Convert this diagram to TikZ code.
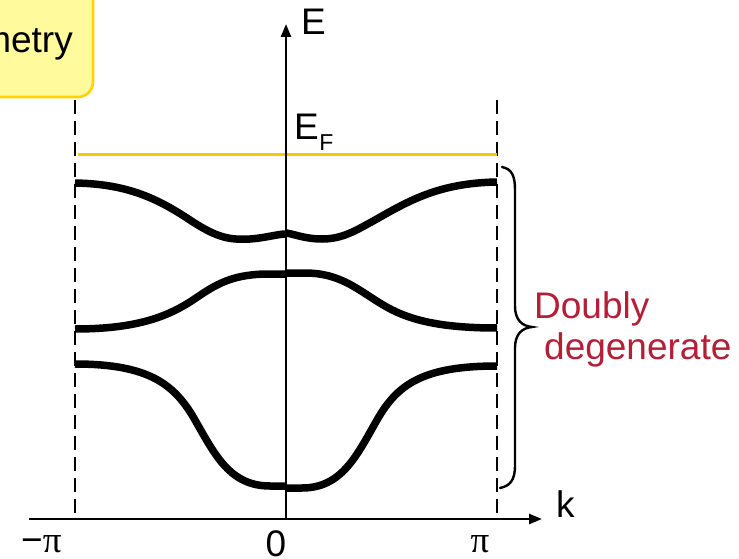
\documentclass[tikz,border=0pt]{standalone}
\usepackage{fontspec}
\setmainfont{Liberation Sans}
\newfontfamily\grk{Liberation Serif}
\usetikzlibrary{arrows.meta}
\definecolor{boxfill}{RGB}{255,250,155}
\definecolor{boxedge}{RGB}{255,210,0}
\definecolor{fermi}{RGB}{250,200,0}
\definecolor{degred}{RGB}{180,30,55}
\tikzset{
  axisline/.style={line width=2.6pt,-{Triangle[length=13pt,width=10pt]}},
  zoneline/.style={line width=2.6pt,dash pattern=on 14pt off 7pt},
  band/.style={line width=7.5pt,line cap=butt},
  lbl/.style={inner sep=0pt,font=\fontsize{37}{44}\selectfont},
}
\begin{document}
\begin{tikzpicture}[x=1pt,y=-1pt]
\useasboundingbox (0,0) rectangle (739,559);
\clip (0,0) rectangle (739,559);
% title box
\draw[line width=2.6pt,draw=boxedge,fill=boxfill,rounded corners=15pt] (-40,-40) rectangle (93,97);
\node[lbl,anchor=base east] (title) at (73,53) {Symmetry};
% zone boundaries
\coordinate (zlt) at (75,100); \coordinate (zlb) at (75,519);
\coordinate (zrt) at (497,100); \coordinate (zrb) at (497,519);
\draw[zoneline] (zlt) -- (zlb);
\draw[zoneline] (zrt) -- (zrb);
% Fermi level
\coordinate (efl) at (78,155); \coordinate (efr) at (497,155);
\draw[fermi,line width=3pt] (efl) -- (efr);
% axes
\coordinate (kstart) at (29,519); \coordinate (kend) at (542,519);
\coordinate (estart) at (286,519); \coordinate (eend) at (286,24);
\draw[axisline] (kstart) -- (kend);
\draw[axisline] (estart) -- (eend);
% bands
\draw[band] (75,183) .. controls (130,184) and (160,200) .. (193,222)
  .. controls (218,238) and (230,240) .. (250,239)
  .. controls (265,238) and (278,234) .. (286,234);
\draw[band] (286,233) .. controls (294,234) and (305,239) .. (322,239)
  .. controls (342,239) and (355,231) .. (375,220)
  .. controls (410,200) and (440,183) .. (497,182);
\draw[band] (75,329) .. controls (140,329) and (170,315) .. (193,300)
  .. controls (215,285) and (230,275) .. (265,274) -- (286,274);
\draw[band] (286,273) -- (305,273) .. controls (335,273) and (352,285) .. (372,298)
  .. controls (395,313) and (420,328) .. (497,328);
\draw[band] (75,364) .. controls (150,364) and (175,385) .. (195,420)
  .. controls (215,455) and (230,486) .. (270,486) -- (286,486);
\draw[band] (286,488) -- (302,488) .. controls (342,488) and (357,455) .. (377,420)
  .. controls (397,385) and (422,366) .. (497,366);
% brace
\draw[line width=2.4pt,line cap=round] (502,167) .. controls (512,169) and (515,176) .. (515,190)
  -- (515,306) .. controls (515,320) and (522,326) .. (532,327)
  .. controls (522,328) and (515,334) .. (515,348)
  -- (515,466) .. controls (515,480) and (510,486) .. (500,488);
% labels
\node[lbl,anchor=base west] (elabel) at (301,35) {E};
\node[lbl,anchor=base west] (eflabel) at (294,140) {E\kern0.5pt\raisebox{-10pt}{\fontsize{23}{27}\selectfont F}};
\node[lbl,anchor=base west] (klabel) at (556,517) {k};
\node[lbl,anchor=base west] (mpi) at (21,552) {−\grk π};
\node[lbl,anchor=base] (zero) at (276,556) {0};
\node[lbl,anchor=base] (ppi) at (480,552) {\grk π};
\node[lbl,anchor=base west,text=degred] (doubly) at (534,318) {Doubly};
\node[lbl,anchor=base west,text=degred] (degen) at (544,359) {degenerate};
\end{tikzpicture}
\end{document}
